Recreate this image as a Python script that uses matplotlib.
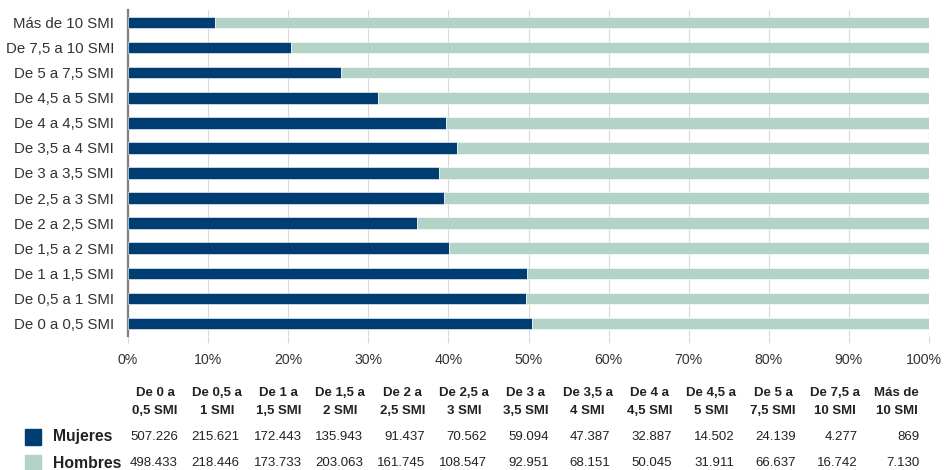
import matplotlib.pyplot as plt
import matplotlib.transforms as mtransforms
import numpy as np
from matplotlib import font_manager

# tramos salariales (de menor a mayor)
tramos = ['De 0 a 0,5 SMI', 'De 0,5 a 1 SMI', 'De 1 a 1,5 SMI', 'De 1,5 a 2 SMI',
          'De 2 a 2,5 SMI', 'De 2,5 a 3 SMI', 'De 3 a 3,5 SMI', 'De 3,5 a 4 SMI',
          'De 4 a 4,5 SMI', 'De 4,5 a 5 SMI', 'De 5 a 7,5 SMI', 'De 7,5 a 10 SMI',
          'Más de 10 SMI']
cabeceras = ['De 0 a\n0,5 SMI', 'De 0,5 a\n1 SMI', 'De 1 a\n1,5 SMI', 'De 1,5 a\n2 SMI',
             'De 2 a\n2,5 SMI', 'De 2,5 a\n3 SMI', 'De 3 a\n3,5 SMI', 'De 3,5 a\n4 SMI',
             'De 4 a\n4,5 SMI', 'De 4,5 a\n5 SMI', 'De 5 a\n7,5 SMI', 'De 7,5 a\n10 SMI',
             'Más de\n10 SMI']
mujeres = [507226, 215621, 172443, 135943, 91437, 70562, 59094, 47387,
           32887, 14502, 24139, 4277, 869]
hombres = [498433, 218446, 173733, 203063, 161745, 108547, 92951, 68151,
           50045, 31911, 66637, 16742, 7130]

AZUL = '#003d73'
VERDE = '#b3d3c8'

names = {f.name for f in font_manager.fontManager.ttflist}
fam = ['Liberation Sans Narrow', 'Liberation Sans'] if 'Liberation Sans Narrow' in names else ['Liberation Sans']
plt.rcParams['font.family'] = fam


def fmt(v):
    return f'{v:,}'.replace(',', '.')


muj = np.array(mujeres, dtype=float)
hom = np.array(hombres, dtype=float)
total = muj + hom
p_muj = muj / total * 100
p_hom = hom / total * 100

W, H = 945, 470
fig = plt.figure(figsize=(W / 100, H / 100), dpi=100)
ax = fig.add_axes([128 / W, 1 - 336 / H, (929 - 128) / W, (336 - 10) / H])

y = np.arange(len(tramos))
ax.barh(y, p_muj, height=0.46, color=AZUL, edgecolor='white', linewidth=0.4, zorder=3)
ax.barh(y, p_hom, left=p_muj, height=0.46, color=VERDE, edgecolor='white', linewidth=0.4, zorder=3)

ax.set_xlim(0, 100)
ax.set_ylim(-0.5, len(tramos) - 0.5)
ax.set_yticks(y)
ax.set_yticklabels(tramos, fontsize=10.8, color='#333333')
ax.set_xticks(np.arange(0, 101, 10))
ax.set_xticklabels([f'{v}%' for v in range(0, 101, 10)], fontsize=10.2, color='#333333')
ax.tick_params(axis='y', length=0, pad=10)
ax.tick_params(axis='x', length=5, color='#d9d9d9', pad=7)
ax.grid(axis='x', color='#d9d9d9', linewidth=0.8, zorder=0)
for s in ['top', 'right', 'bottom']:
    ax.spines[s].set_visible(False)
ax.spines['left'].set_color('#7f7f7f')
ax.spines['left'].set_linewidth(1.6)

# la etiqueta del 100% se desplaza un poco para que quepa en la figura
ultima = ax.get_xticklabels()[-1]
ultima.set_transform(ultima.get_transform() +
                     mtransforms.ScaledTranslation(-5 / 100, 0, fig.dpi_scale_trans))

# tabla de datos bajo el grafico
centros = 155 + np.arange(len(tramos)) * 61.8
for xc, cab in zip(centros, cabeceras):
    fig.text(xc / W, 1 - 402 / H, cab, ha='center', va='center', fontsize=9.5,
             fontweight='bold', color='#222222', linespacing=1.75)
for xc, m, h in zip(centros, mujeres, hombres):
    fig.text((xc + 23) / W, 1 - 437 / H, fmt(m), ha='right', va='center',
             fontsize=9.5, color='#222222')
    fig.text((xc + 23) / W, 1 - 463 / H, fmt(h), ha='right', va='center',
             fontsize=9.5, color='#222222')

for yy, txt, col in [(437, 'Mujeres', AZUL), (463, 'Hombres', VERDE)]:
    fig.patches.append(plt.Rectangle((25 / W, 1 - (yy + 8) / H), 16 / W, 16 / H,
                                     transform=fig.transFigure, color=col))
    fig.text(53 / W, 1 - yy / H, txt, ha='left', va='center', fontsize=11.3,
             fontweight='bold', color='#222222')

fig.savefig('out.png', dpi=100)
